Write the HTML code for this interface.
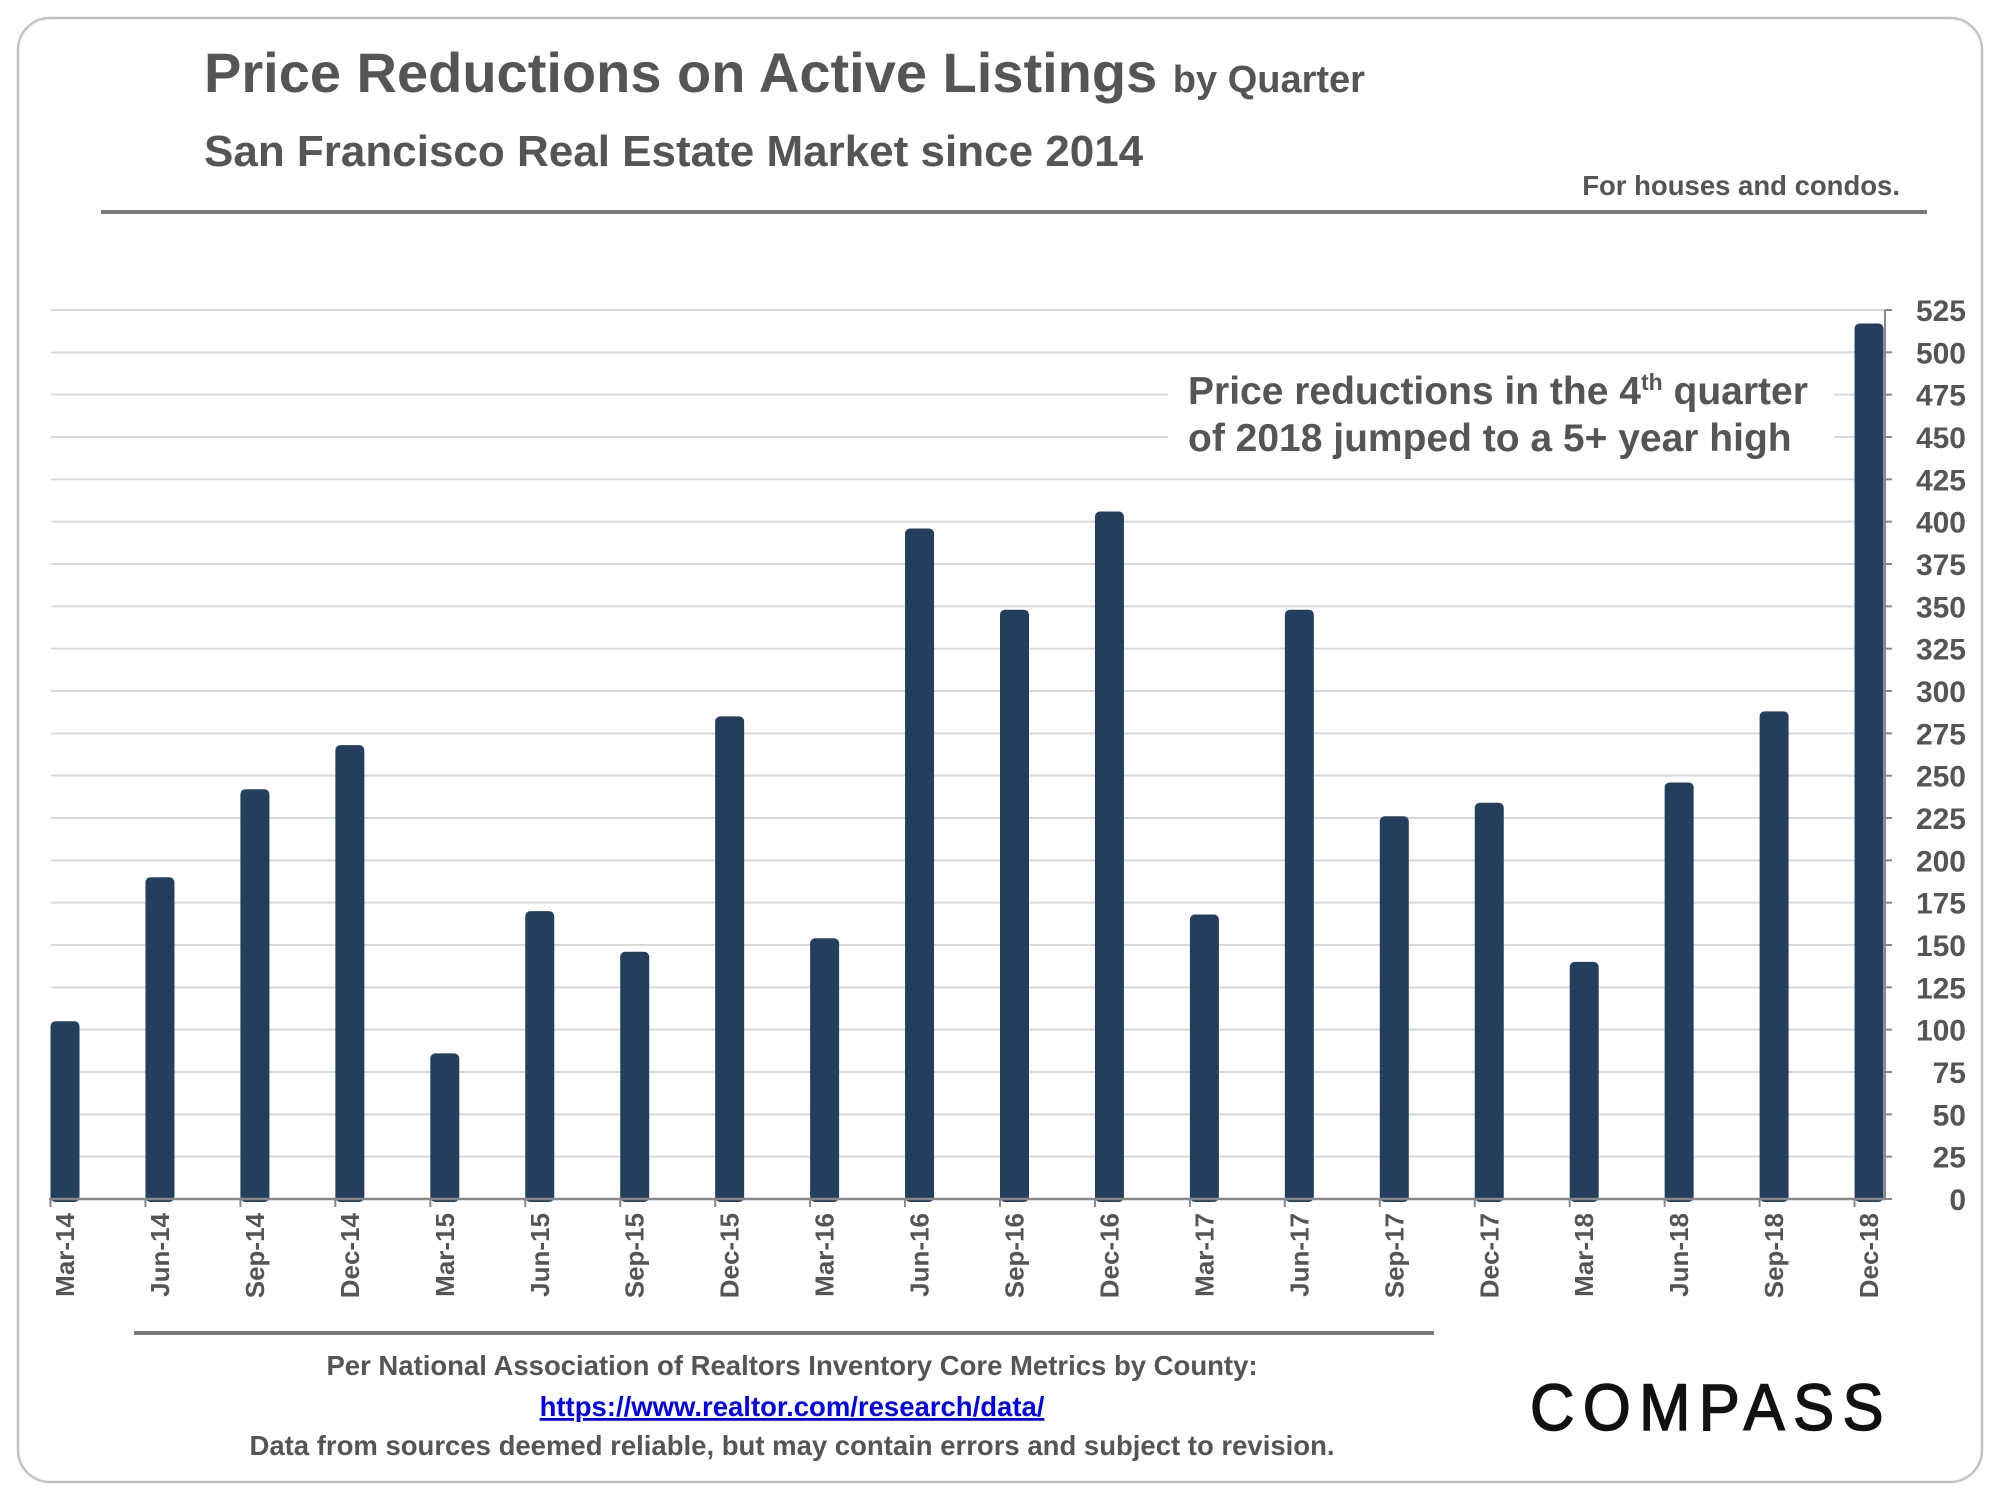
<!DOCTYPE html>
<html><head><meta charset="utf-8"><style>
html,body{margin:0;padding:0;background:#fff;}
body{width:2000px;height:1500px;position:relative;overflow:hidden;font-family:"Liberation Sans",Arial,sans-serif;}
</style></head><body>
<svg id="chart" width="2000" height="1500" viewBox="0 0 2000 1500" xmlns="http://www.w3.org/2000/svg" font-family="Liberation Sans, Arial, sans-serif">
<rect x="18" y="18" width="1964" height="1464" rx="32" fill="#fff" stroke="#c4c4c4" stroke-width="2.5"/>
<text x="204" y="92" font-size="56" font-weight="bold" fill="#555">Price Reductions on Active Listings <tspan font-size="38">by Quarter</tspan></text>
<text x="204" y="166" font-size="44" font-weight="bold" fill="#555">San Francisco Real Estate Market since 2014</text>
<text x="1900" y="195" font-size="27.5" font-weight="bold" fill="#555" text-anchor="end">For houses and condos.</text>
<rect x="101" y="210" width="1826" height="4" fill="#7a7a7a"/>
<g id="grid"></g>
<g id="bars"></g>
<g id="yaxis"></g>
<g id="xaxis"></g>
<rect x="1168" y="368" width="666" height="96" fill="#fff"/>
<text x="1188" y="404" font-size="39" font-weight="bold" fill="#555">Price reductions in the 4<tspan font-size="23" dy="-14">th</tspan><tspan dy="14"> quarter</tspan></text>
<text x="1188" y="451" font-size="39" font-weight="bold" fill="#555">of 2018 jumped to a 5+ year high</text>
<rect x="134" y="1331" width="1300" height="4" fill="#7a7a7a"/>
<text x="792" y="1375" font-size="27.5" font-weight="bold" fill="#555" text-anchor="middle">Per National Association of Realtors Inventory Core Metrics by County:</text>
<text x="792" y="1416" font-size="27.5" font-weight="bold" fill="#0000ee" text-anchor="middle" text-decoration="underline">https://www.realtor.com/research/data/</text>
<text x="792" y="1455" font-size="27.5" font-weight="bold" fill="#555" text-anchor="middle">Data from sources deemed reliable, but may contain errors and subject to revision.</text>
<text x="1530" y="1430" font-size="66" fill="#111" stroke="#111" stroke-width="1.5" letter-spacing="9" textLength="362" lengthAdjust="spacingAndGlyphs">COMPASS</text>
</svg>
<script>
const categories = ["Mar-14","Jun-14","Sep-14","Dec-14","Mar-15","Jun-15","Sep-15","Dec-15","Mar-16","Jun-16","Sep-16","Dec-16","Mar-17","Jun-17","Sep-17","Dec-17","Mar-18","Jun-18","Sep-18","Dec-18"];
const values = [105,190,242,268,86,170,146,285,154,396,348,406,168,348,226,234,140,246,288,517];
const yTicks = [0,25,50,75,100,125,150,175,200,225,250,275,300,325,350,375,400,425,450,475,500,525];

const NS = "http://www.w3.org/2000/svg";
const plotLeft = 51, plotRight = 1885, y0 = 1199, yTop = 310, yMax = 525;
const firstX = 65, step = 94.95, barW = 29;
function yScale(v){ return y0 - (v / yMax) * (y0 - yTop); }
function xScale(i){ return firstX + i * step; }
function mk(tag, attrs){ const e = document.createElementNS(NS, tag); for (const k in attrs) e.setAttribute(k, attrs[k]); return e; }

const grid = document.getElementById('grid');
const yaxis = document.getElementById('yaxis');
yTicks.forEach(t => {
  const y = yScale(t);
  if (t > 0) {
    const l = mk('line', {x1: plotLeft, x2: plotRight, y1: y, y2: y, stroke: '#d9d9d9', 'stroke-width': 2});
    
    
    grid.appendChild(l);
  }
  const tk = mk('line', {x1: plotRight, x2: plotRight + 7, y1: y, y2: y, stroke: '#888', 'stroke-width': 2});
  
  
  yaxis.appendChild(tk);
  const tx = mk('text', {x: 1966, y: y + 11, 'font-size': 30, 'font-weight': 'bold', fill: '#555', 'text-anchor': 'end'});
  tx.textContent = t;
  
  
  yaxis.appendChild(tx);
});
const ax = mk('line', {x1: plotRight, x2: plotRight, y1: yTop, y2: y0, stroke: '#888', 'stroke-width': 2});


yaxis.appendChild(ax);

const bars = document.getElementById('bars');
const xaxis = document.getElementById('xaxis');
categories.forEach((c, i) => {
  const cx = xScale(i), top = yScale(values[i]);
  const b = mk('rect', {x: cx - barW/2, y: top, width: barW, height: y0 - top + 3, rx: 5, fill: '#243f5e'});
  
  
  bars.appendChild(b);
  const tk = mk('line', {x1: cx - barW/2, x2: cx - barW/2, y1: y0, y2: y0 + 8, stroke: '#888', 'stroke-width': 2});
  
  
  xaxis.appendChild(tk);
  const tx = mk('text', {x: 0, y: 0, 'font-size': 26, 'font-weight': 'bold', fill: '#555', 'text-anchor': 'end', transform: 'translate(' + (cx + 9) + ',' + (y0 + 14) + ') rotate(-90)'});
  tx.textContent = c;
  
  
  xaxis.appendChild(tx);
});
const xl = mk('line', {x1: plotLeft - 2, x2: plotRight, y1: y0, y2: y0, stroke: '#888', 'stroke-width': 2.5});


xaxis.appendChild(xl);
</script>
</body></html>
